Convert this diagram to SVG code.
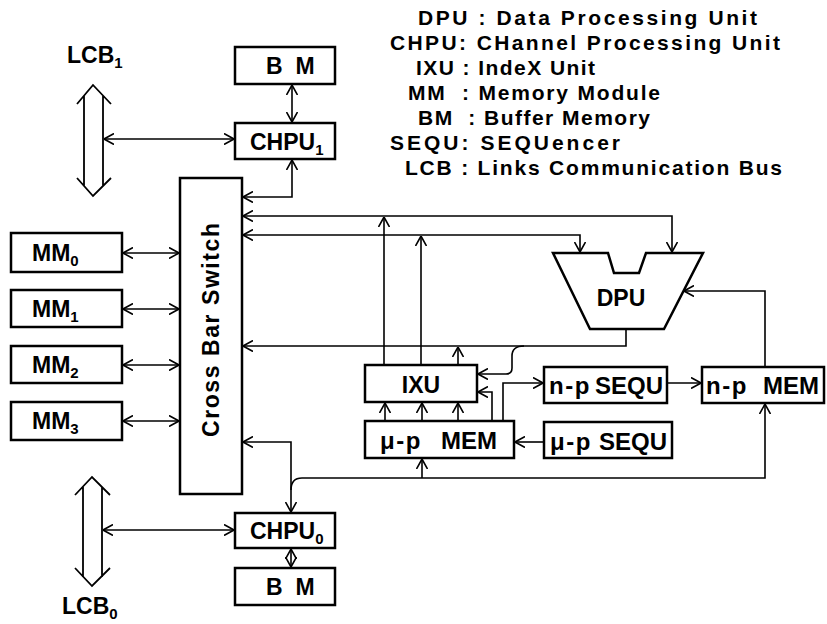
<svg xmlns="http://www.w3.org/2000/svg" width="827" height="624" viewBox="0 0 827 624">
<style>
.box{fill:#fff;stroke:#000;stroke-width:2.5}
.ln{fill:none;stroke:#000;stroke-width:1.6}
.bi{marker-start:url(#ah);marker-end:url(#ah)}
.e{marker-end:url(#ah)}
.s{marker-start:url(#ah)}
.bus{fill:none;stroke:#000;stroke-width:1.8}
text{font-family:"Liberation Sans",Arial,sans-serif;font-weight:bold;fill:#000}
.lbl{font-size:23px}
.big{font-size:24px}
.np{letter-spacing:1.5px}
.mid{text-anchor:middle}
.sub{font-size:15px}
.leg{font-size:21px;white-space:pre}
</style>
<defs>
<marker id="ah" viewBox="0 0 10 12" refX="10" refY="6" markerWidth="10" markerHeight="12" markerUnits="userSpaceOnUse" orient="auto-start-reverse">
<path d="M0,0.5 L10,6 L0,11.5" fill="none" stroke="#000" stroke-width="1.6"/>
</marker>
</defs>
<rect width="827" height="624" fill="#fff"/>

<g id="legend">
<text class="leg" x="418" y="25" textLength="339" lengthAdjust="spacing">DPU : Data Processing Unit</text>
<text class="leg" x="390" y="50" textLength="390" lengthAdjust="spacing">CHPU: CHannel Processing Unit</text>
<text class="leg" x="416" y="75" textLength="179" lengthAdjust="spacing">IXU : IndeX Unit</text>
<text class="leg" x="408" y="100" textLength="252" lengthAdjust="spacing" xml:space="preserve">MM  : Memory Module</text>
<text class="leg" x="418" y="125" textLength="232" lengthAdjust="spacing" xml:space="preserve">BM  : Buffer Memory</text>
<text class="leg" x="390" y="150" textLength="230" lengthAdjust="spacing">SEQU: SEQUencer</text>
<text class="leg" x="405" y="175" textLength="377" lengthAdjust="spacing">LCB : Links Communication Bus</text>
</g>

<g id="connectors">
<path class="ln bi" d="M292,85 V122"/>
<path class="ln bi" d="M104,139 H234"/>
<path class="ln bi" d="M292,160 V197 H243"/>
<path class="ln bi" d="M243,216 H672 V252"/>
<path class="ln bi" d="M243,235 H580 V252"/>
<path class="ln e" d="M384,364 V217"/>
<path class="ln e" d="M421,364 V236"/>
<path class="ln e" d="M458,364 V347"/>
<path class="ln e" d="M626,329 V346 H243"/>
<path class="ln e" d="M524,346 Q512,346 512,356 V368 Q512,374 506,374 H478"/>
<path class="ln e" d="M385,420 V403"/>
<path class="ln e" d="M422,420 V403"/>
<path class="ln e" d="M458,420 V403"/>
<path class="ln e" d="M492,420 V392 H478"/>
<path class="ln e" d="M503,420 V383 H543"/>
<path class="ln e" d="M543,442 H515"/>
<path class="ln e" d="M667,383 H701"/>
<path class="ln e" d="M765,366 V291 H684"/>
<path class="ln s" d="M765,404 V478 H302 Q291,478 291,490"/>
<path class="ln e" d="M422,478 V459"/>
<path class="ln bi" d="M243,442 H291 V512"/>
<path class="ln bi" d="M291,549 V567"/>
<path class="ln bi" d="M103,530 H234"/>
<path class="ln bi" d="M123,253 H179"/>
<path class="ln bi" d="M123,309 H179"/>
<path class="ln bi" d="M123,365 H179"/>
<path class="ln bi" d="M123,421 H179"/>
</g>

<g id="lcb1">
<path class="bus" d="M77,104 L93,85 L111,104 M84,96 V186 M103,96 V186 M77,178 L93,196 L111,178"/>
<text class="lbl" x="67" y="63">LCB<tspan class="sub" dy="5">1</tspan></text>
</g>
<g id="lcb0">
<path class="bus" d="M75,495 L92,477 L110,495 M83,487 V577 M102,487 V577 M75,568 L92,586 L110,568"/>
<text class="lbl" x="62" y="614">LCB<tspan class="sub" dy="5">0</tspan></text>
</g>

<g id="bm1"><rect class="box" x="235" y="47" width="100" height="37"/><text class="lbl" x="266" y="74" xml:space="preserve">B  M</text></g>
<g id="chpu1"><rect class="box" x="235" y="123" width="100" height="36"/><text class="lbl" x="250" y="150">CHPU<tspan class="sub" dy="5">1</tspan></text></g>
<g id="crossbar"><rect class="box" x="180" y="178" width="62" height="316"/><text class="lbl mid" transform="translate(219,330) rotate(-90)" textLength="214" lengthAdjust="spacing">Cross Bar Switch</text></g>
<g id="mm0"><rect class="box" x="11" y="233" width="111" height="39"/><text class="lbl" x="32" y="261">MM<tspan class="sub" dy="5">0</tspan></text></g>
<g id="mm1"><rect class="box" x="11" y="290" width="111" height="37"/><text class="lbl" x="32" y="317">MM<tspan class="sub" dy="5">1</tspan></text></g>
<g id="mm2"><rect class="box" x="11" y="346" width="111" height="37"/><text class="lbl" x="32" y="373">MM<tspan class="sub" dy="5">2</tspan></text></g>
<g id="mm3"><rect class="box" x="11" y="402" width="111" height="38"/><text class="lbl" x="32" y="429">MM<tspan class="sub" dy="5">3</tspan></text></g>
<g id="dpu"><path class="box" d="M553,253 L608,253 L614,273 L639,273 L646,253 L703,253 L664,329 L590,329 Z"/><text class="lbl mid" x="621" y="306">DPU</text></g>
<g id="ixu"><rect class="box" x="365" y="365" width="112" height="37"/><text class="lbl mid" x="421" y="393">IXU</text></g>
<g id="upmem"><rect class="box" x="365" y="421" width="149" height="37"/><text class="big" y="449"><tspan class="np" x="380">μ-p</tspan><tspan> </tspan><tspan x="441">MEM</tspan></text></g>
<g id="npsequ"><rect class="box" x="544" y="367" width="123" height="36"/><text class="big" y="394"><tspan class="np" x="549">n-p</tspan><tspan x="595">SEQU</tspan></text></g>
<g id="upsequ"><rect class="box" x="544" y="422" width="128" height="36"/><text class="big" y="450"><tspan class="np" x="550">μ-p</tspan><tspan x="599">SEQU</tspan></text></g>
<g id="npmem"><rect class="box" x="702" y="367" width="122" height="36"/><text class="big" y="394"><tspan class="np" x="706">n-p</tspan><tspan> </tspan><tspan x="763">MEM</tspan></text></g>
<g id="chpu0"><rect class="box" x="235" y="513" width="100" height="35"/><text class="lbl" x="250" y="539">CHPU<tspan class="sub" dy="5">0</tspan></text></g>
<g id="bm0"><rect class="box" x="235" y="568" width="100" height="37"/><text class="lbl" x="266" y="595" xml:space="preserve">B  M</text></g>
</svg>
